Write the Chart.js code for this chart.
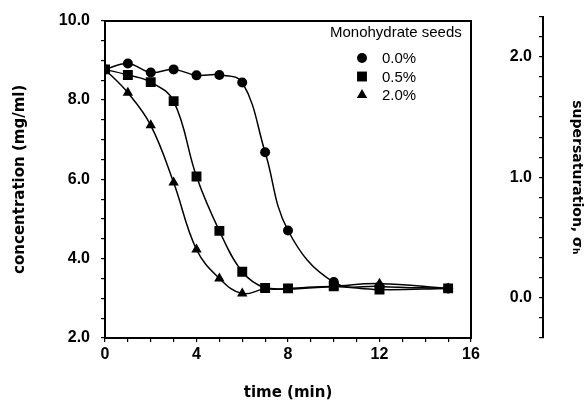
<!DOCTYPE html>
<html>
<head>
<meta charset="utf-8">
<script src="https://cdn.jsdelivr.net/npm/chart.js@4.4.0/dist/chart.umd.min.js"></script>
<style>
  body { margin: 0; background: #fff; }
  #wrap { position: relative; width: 586px; height: 402px; }
  #wrap canvas { position: absolute; left: 0; top: 0; }
</style>
</head>
<body>
<div id="wrap">
  <canvas id="Chart" width="586" height="402"></canvas>
  <canvas id="Sigma" width="586" height="402"></canvas>
</div>
<script>
// sampling times (min) and concentrations (mg/ml) per seed loading
const times = [0, 1, 2, 3, 4, 5, 6, 7, 8, 10, 12, 15];
const seedLabels = ['0.0%', '0.5%', '2.0%'];
const conc00 = [8.77, 8.92, 8.69, 8.77, 8.62, 8.63, 8.44, 6.68, 4.71, 3.41, 3.30, 3.25];
const conc05 = [8.77, 8.63, 8.45, 7.97, 6.07, 4.70, 3.67, 3.26, 3.25, 3.30, 3.22, 3.25];
const conc20 = [8.77, 8.18, 7.36, 5.92, 4.23, 3.50, 3.12, 3.24, 3.23, 3.30, 3.37, 3.25];
const xTickLabels = [0, 4, 8, 12, 16];
const yTickLabels = [2, 4, 6, 8, 10];
const sigmaTickLabels = [0, 1, 2];

const tickFont = { family: '"Liberation Sans", Arial, sans-serif', size: 16, weight: 'bold' };
const titleFont = { family: '"DejaVu Sans", sans-serif', size: 15, weight: 'bold' };

function series(label, values, style, radius) {
    return {
        label: label,
        data: times.map((t, i) => ({ x: t, y: values[i] })),
        showLine: true,
        tension: 0.4,
        borderColor: '#000',
        borderWidth: 1.5,
        pointStyle: style,
        pointRadius: radius,
        pointBackgroundColor: '#000',
        pointBorderColor: '#000',
        pointBorderWidth: 0,
        xAxisID: 'x',
        yAxisID: 'y'
    };
}

// legend drawn inside the plot, top right
const seedsLegend = {
    id: 'seedsLegend',
    afterDraw(chart) {
        const ctx = chart.ctx;
        ctx.save();
        ctx.fillStyle = '#000';
        ctx.font = '15px "Liberation Sans", Arial, sans-serif';
        ctx.textBaseline = 'middle';
        ctx.textAlign = 'left';
        ctx.fillText('Monohydrate seeds', 330, 33);
        chart.data.datasets.forEach((ds, i) => {
            const y = 58 + i * 18.5;
            Chart.helpers.drawPoint(ctx, { pointStyle: ds.pointStyle, radius: ds.pointRadius, rotation: 0, borderWidth: 0 }, 362, y);
            ctx.fillText(ds.label, 382, y + 1);
        });
        ctx.restore();
    }
};

const ctx = document.getElementById('Chart').getContext('2d');
const myChart = new Chart(ctx, {
    type: 'scatter',
    data: {
        datasets: [
            series(seedLabels[0], conc00, 'circle', 5),
            series(seedLabels[1], conc05, 'rect', 7),
            series(seedLabels[2], conc20, 'triangle', 6)
        ]
    },
    options: {
        responsive: false,
        animation: false,
        layout: { padding: { left: 0, top: 16, right: 115, bottom: 0 } },
        plugins: { legend: { display: false }, tooltip: { enabled: false } },
        scales: {
            x: {
                type: 'linear', position: 'bottom', min: 0, max: 16,
                ticks: {
                    stepSize: 1, autoSkip: false, maxRotation: 0, padding: 3, color: '#000', font: tickFont,
                    callback: v => xTickLabels.includes(v) ? String(v) : ''
                },
                grid: { drawOnChartArea: false, color: '#000', lineWidth: 1.2, tickLength: 4 },
                border: { color: '#000', width: 2 },
                title: { display: true, text: 'time (min)', color: '#000', font: titleFont, padding: { top: 0, bottom: 0 } },
                afterFit: s => { s.height = 64; }
            },
            y: {
                type: 'linear', position: 'left', min: 2, max: 10,
                ticks: {
                    stepSize: 0.5, autoSkip: false, padding: 11, color: '#000', font: tickFont,
                    callback: v => yTickLabels.some(t => Math.abs(t - v) < 1e-6) ? v.toFixed(1) : ''
                },
                grid: { drawOnChartArea: false, color: '#000', lineWidth: 1.2, tickLength: 4 },
                border: { color: '#000', width: 2 },
                title: { display: true, text: 'concentration (mg/ml)', color: '#000', font: titleFont, padding: { top: 11, bottom: 0 } },
                afterFit: s => { s.width = 105; }
            },
            x2: {
                type: 'linear', position: 'top', min: 0, max: 16,
                ticks: { display: false },
                grid: { drawOnChartArea: false, drawTicks: false },
                border: { color: '#000', width: 2 },
                afterFit: s => { s.height = 0; }
            },
            y2: {
                type: 'linear', position: 'right', min: 2, max: 10,
                ticks: { display: false },
                grid: { drawOnChartArea: false, drawTicks: false },
                border: { color: '#000', width: 2 },
                afterFit: s => { s.width = 0; }
            }
        }
    },
    plugins: [seedsLegend]
});

// second axis: supersaturation, sigma = (C - 3) / 3, standing apart on the right
const ctx2 = document.getElementById('Sigma').getContext('2d');
const sigmaChart = new Chart(ctx2, {
    type: 'scatter',
    data: { datasets: [] },
    options: {
        responsive: false,
        animation: false,
        layout: { padding: { left: 498, top: 16, right: 0, bottom: 64 } },
        plugins: { legend: { display: false }, tooltip: { enabled: false } },
        scales: {
            x: { type: 'linear', display: false, min: 0, max: 1 },
            s: {
                type: 'linear', position: 'left', min: -1 / 3, max: 7 / 3,
                ticks: {
                    stepSize: 1 / 6, autoSkip: false, padding: 7, color: '#000', font: tickFont,
                    callback: v => sigmaTickLabels.some(t => Math.abs(t - v) < 1e-6) ? Math.round(v).toFixed(1) : ''
                },
                grid: { drawOnChartArea: false, color: '#000', lineWidth: 1.2, tickLength: 4 },
                border: { color: '#000', width: 2 },
                afterFit: sc => { sc.width = 45; }
            },
            t: {
                type: 'linear', position: 'right', min: 0, max: 1,
                ticks: { display: false },
                grid: { display: false },
                border: { display: false },
                title: { display: true, text: 'supersaturation, σₕ', color: '#000', font: { family: '"DejaVu Sans", sans-serif', size: 14, weight: 'bold' }, padding: { top: 1, bottom: 0 } },
                afterFit: sc => { sc.width = 40; }
            }
        }
    }
});
</script>
</body>
</html>
